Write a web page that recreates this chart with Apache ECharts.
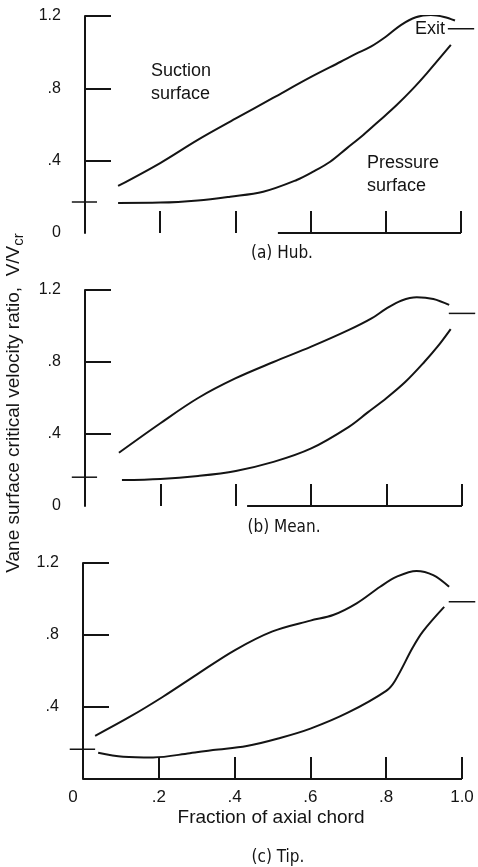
<!DOCTYPE html>
<html><head><meta charset="utf-8">
<script src="https://cdn.jsdelivr.net/npm/echarts@6/dist/echarts.min.js"></script>
<style>html,body{margin:0;padding:0;background:#fff}#c{width:478px;height:867px}</style>
</head><body><div id="c"></div>
<script>
// ---- data ----
const xTicks = [0, 0.2, 0.4, 0.6, 0.8, 1.0];
const xTickLabels = ['0', '.2', '.4', '.6', '.8', '1.0'];
const xTickMarks = [0.2, 0.4, 0.6, 0.8, 1.0];
const yTicks = [0, 0.4, 0.8, 1.2];          // hub and mean panels
const yTicksTip = [0.4, 0.8, 1.2];          // tip panel (its 0 is the x label)
const yTickLabels = ['0', '.4', '.8', '1.2'];
const yTickMarks = [0.4, 0.8, 1.2];

const hubSuction = [[0.088,0.26],[0.2,0.387],[0.3,0.515],[0.4,0.632],[0.5,0.747],[0.6,0.862],[0.68,0.947],[0.72,0.99],[0.76,1.03],[0.8,1.085],[0.84,1.15],[0.88,1.193],[0.92,1.205],[0.955,1.195],[0.984,1.175]];
const hubPressure = [[0.088,0.166],[0.2,0.168],[0.3,0.18],[0.386,0.201],[0.474,0.228],[0.563,0.293],[0.607,0.339],[0.652,0.394],[0.696,0.468],[0.74,0.542],[0.785,0.625],[0.829,0.708],[0.873,0.8],[0.909,0.883],[0.973,1.04]];
const meanSuction = [[0.09,0.296],[0.2,0.46],[0.3,0.6],[0.4,0.71],[0.5,0.8],[0.6,0.885],[0.7,0.978],[0.76,1.042],[0.8,1.098],[0.84,1.142],[0.88,1.16],[0.924,1.15],[0.966,1.117]];
const meanPressure = [[0.098,0.144],[0.2,0.15],[0.3,0.167],[0.4,0.195],[0.5,0.245],[0.6,0.32],[0.7,0.44],[0.75,0.52],[0.8,0.6],[0.85,0.69],[0.9,0.8],[0.935,0.885],[0.97,0.983]];
const tipSuction = [[0.032,0.24],[0.124,0.346],[0.211,0.457],[0.3,0.58],[0.4,0.715],[0.5,0.82],[0.6,0.88],[0.66,0.911],[0.722,0.976],[0.784,1.068],[0.828,1.124],[0.88,1.156],[0.924,1.133],[0.966,1.068]];
const tipPressure = [[0.04,0.146],[0.106,0.124],[0.185,0.12],[0.282,0.143],[0.343,0.161],[0.432,0.183],[0.52,0.228],[0.6,0.28],[0.7,0.37],[0.8,0.49],[0.823,0.545],[0.87,0.73],[0.897,0.82],[0.953,0.956]];

const inletValues = [0.171, 0.16, 0.165];   // hub, mean, tip
const exitValues = [1.13, 1.07, 0.985];     // hub, mean, tip
const inletMarkX = [-0.035, 0.032];
const exitMarkX = [0.965, 1.035];
const axisLineX = [[0.513, 1.0], [0.43, 1.0], [0, 1.0]]; // visible parts of the x-axis line (hub, mean, tip)

const panelCaptions = ['(a) Hub.', '(b) Mean.', '(c) Tip.'];
const xAxisTitle = 'Fraction of axial chord';
const xMin = -0.04, xMax = 1.04;

// ---- chart ----
const FONT = '"Liberation Sans", Arial, sans-serif';
const NARROW = '"Liberation Sans Narrow", "DejaVu Sans Condensed", "Liberation Sans", sans-serif';
const INK = '#141414';
// plot frames: pixel of x=0, pixels per unit x, top, height
const frames = [[85, 376, 16, 217], [85, 377, 290, 216], [83, 379, 563, 216]];
const grids = frames.map(f => ({left: f[0] + xMin * f[1], width: (xMax - xMin) * f[1], top: f[2], height: f[3]}));

function mkX(i) {
  return {
    gridIndex: i, type: 'value', min: xMin, max: xMax,
    axisLine: {show: false},
    axisTick: {show: true, inside: true, length: 22, customValues: xTickMarks, lineStyle: {color: INK, width: 2}},
    axisLabel: {show: i === 2, customValues: xTicks,
      formatter: v => { const k = Math.round(v * 5); return k === 0 ? '{z|0}' : xTickLabels[k]; },
      rich: {z: {padding: [0, 20, 0, 0], fontSize: 17, fontFamily: FONT, color: INK}},
      color: INK, fontSize: 17, fontFamily: FONT, margin: 10},
    splitLine: {show: false}
  };
}
function mkY(i) {
  return {
    gridIndex: i, type: 'value', min: 0, max: 1.2,
    axisLine: {show: true, onZero: true, lineStyle: {color: INK, width: 2}},
    axisTick: {show: true, inside: true, length: 26, customValues: yTickMarks, lineStyle: {color: INK, width: 2}},
    axisLabel: {customValues: i === 2 ? yTicksTip : yTicks, formatter: v => yTickLabels[Math.round(v / 0.4)],
      color: INK, fontSize: 16, fontFamily: FONT, margin: 9},
    splitLine: {show: false}
  };
}
function curve(i, data) {
  return {type: 'line', xAxisIndex: i, yAxisIndex: i, data: data, smooth: 0.35, symbol: 'none',
    lineStyle: {color: INK, width: 2}, silent: true};
}
function seg(i, xs, v, w) {
  return {type: 'line', xAxisIndex: i, yAxisIndex: i, data: xs.map(x => [x, v]), symbol: 'none', clip: false,
    lineStyle: {color: INK, width: w || 1.5}, silent: true};
}

const curves = [[hubSuction, hubPressure], [meanSuction, meanPressure], [tipSuction, tipPressure]];
const series = [];
for (let i = 0; i < 3; i++) {
  series.push(curve(i, curves[i][0]), curve(i, curves[i][1]));
  series.push(seg(i, inletMarkX, inletValues[i]));
  series.push(seg(i, exitMarkX, exitValues[i]));
  series.push(seg(i, axisLineX[i], 0, 2));
}

const captionPos = [[282, 254], [284, 528], [278, 858]];
const graphic = [
  {type: 'text', left: 151, top: 60, style: {text: 'Suction\nsurface', font: '18px ' + FONT, lineHeight: 23, fill: INK}},
  {type: 'text', left: 367, top: 152, style: {text: 'Pressure\nsurface', font: '18px ' + FONT, lineHeight: 23, fill: INK}},
  {type: 'text', left: 415, top: 20, style: {text: 'Exit', font: '18px ' + FONT, fill: INK}},
  {type: 'text', x: 271, y: 818, style: {text: xAxisTitle, font: '19px ' + FONT, fill: INK, align: 'center', verticalAlign: 'middle'}},
  {type: 'text', x: 14, y: 403, rotation: Math.PI / 2,
    style: {text: '{n|Vane surface critical velocity ratio,  V/V}{s|cr}', fill: INK, align: 'center', verticalAlign: 'middle',
      rich: {n: {fontSize: 19, fontFamily: FONT}, s: {fontSize: 15, fontFamily: FONT, padding: [10, 0, 0, 0]}}}}
];
panelCaptions.forEach((t, i) => graphic.push({type: 'text', x: captionPos[i][0], y: captionPos[i][1],
  style: {text: t, font: '17px ' + NARROW, fill: INK, align: 'center', verticalAlign: 'middle'}}));

const chart = echarts.init(document.getElementById('c'), null, {renderer: 'canvas'});
chart.setOption({
  animation: false,
  backgroundColor: '#fff',
  grid: grids,
  xAxis: [mkX(0), mkX(1), mkX(2)],
  yAxis: [mkY(0), mkY(1), mkY(2)],
  series: series,
  graphic: graphic
});
</script></body></html>
